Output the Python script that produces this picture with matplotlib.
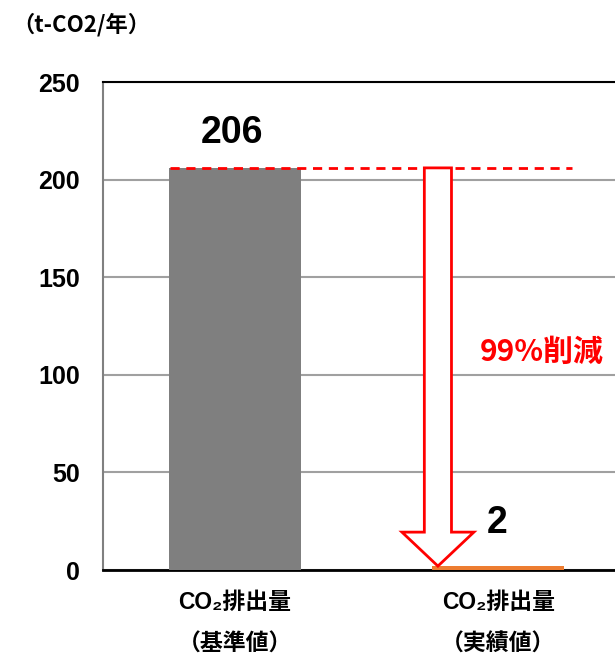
import matplotlib
matplotlib.use("Agg")
import matplotlib.pyplot as plt
from matplotlib.patches import FancyArrow

plt.rcParams["font.family"] = ["Noto Sans CJK JP", "DejaVu Sans"]
plt.rcParams["font.weight"] = "bold"
LATIN = ["Liberation Sans", "Noto Sans CJK JP", "DejaVu Sans"]

categories = ["CO₂排出量\n（基準値）", "CO₂排出量\n（実績値）"]
values = [206, 2]
bar_colors = ["#7f7f7f", "#ed7d31"]
value_labels = ["206", "2"]
reduction_text = "99%削減"
unit_text = "（t-CO2/年）"
yticks = [0, 50, 100, 150, 200, 250]

fig = plt.figure(figsize=(6.15, 6.57), dpi=100)
# the plot area runs past the right edge of the picture, as in the original
ax = fig.add_axes([103 / 615, 87 / 657, 527 / 615, 488 / 657])

x = list(range(len(categories)))
ax.bar(x, values, width=0.5, color=bar_colors, zorder=3)

ax.set_xlim(-0.5, 1.5)
ax.set_ylim(0, 250)
ax.set_yticks(yticks)
ax.set_yticklabels([str(t) for t in yticks], fontsize=18, fontweight="bold", family=LATIN)
ax.set_xticks(x)
ax.set_xticklabels(categories, fontsize=16.5, fontweight="bold", linespacing=2.05,
                   family=LATIN)
ax.tick_params(axis="both", length=0)
ax.tick_params(axis="y", pad=16.5)
ax.tick_params(axis="x", pad=15)

ax.yaxis.grid(True, color="#a0a0a0", linewidth=1.5, zorder=0)
ax.set_axisbelow(True)
ax.spines["right"].set_visible(False)
ax.spines["top"].set_color("black")
ax.spines["top"].set_linewidth(1.5)
ax.spines["bottom"].set_color("black")
ax.spines["bottom"].set_linewidth(2)
ax.spines["left"].set_color("#808080")
ax.spines["left"].set_linewidth(1.5)

# value labels
ax.text(x[0] - 0.01, values[0] + 18, value_labels[0], ha="center", va="center",
        fontsize=27, fontweight="bold", family=LATIN)
ax.text(x[1] - 0.005, values[1] + 22, value_labels[1], ha="center", va="center",
        fontsize=27, fontweight="bold", family=LATIN)

# dashed reference line at the baseline value
ax.plot([-0.246, 1.28], [values[0], values[0]], color="red", linestyle=(0, (3.3, 2.4)),
        linewidth=2, zorder=4)

# reduction arrow
arrow_x = 0.771
ax.add_patch(FancyArrow(arrow_x, values[0], 0, values[1] - values[0], width=0.103,
                        head_width=0.273, head_length=17.4, length_includes_head=True,
                        facecolor="white", edgecolor="red", linewidth=2, zorder=5))

ax.text(1.166, 111.7, reduction_text, color="red", ha="center", va="center",
        fontsize=21.5, fontweight="bold")

fig.text(12 / 615, 1 - 25 / 657, unit_text, ha="left", va="center",
         fontsize=16, fontweight="bold")

fig.savefig("out.png", dpi=100)
